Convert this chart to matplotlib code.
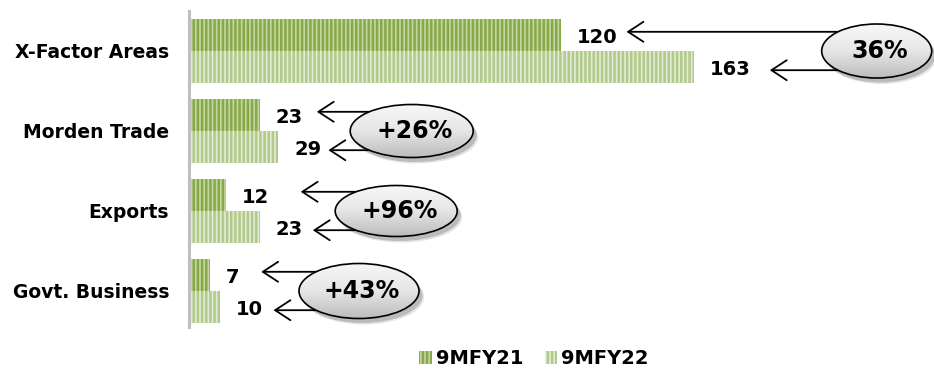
#! /usr/bin/env python3
# Segment revenue, 9MFY21 vs 9MFY22, with growth call-outs.
import numpy as np
import matplotlib.pyplot as plt
from matplotlib.patches import Ellipse
from matplotlib.colors import LinearSegmentedColormap

categories = ['X-Factor Areas', 'Morden Trade', 'Exports', 'Govt. Business']
series = ['9MFY21', '9MFY22']
fy21 = [120, 23, 12, 7]
fy22 = [163, 29, 23, 10]
growth = ['36%', '+26%', '+96%', '+43%']

plt.rcParams['font.family'] = 'DejaVu Sans'
plt.rcParams['font.weight'] = 'bold'
plt.rcParams['hatch.linewidth'] = 1.8

W, H = 934, 370
x0 = 188.5          # pixel column of x = 0
sx, sy = 3.1, 80.0  # pixels per data unit
fig = plt.figure(figsize=(W / 100, H / 100), dpi=100)
ax = fig.add_axes([x0 / W, (H - 327) / H, (W - x0) / W, 316 / H])

# Bars, striped like the original deck style.
y = np.arange(len(categories))
h = 0.39
b21 = ax.barh(y - 0.2, fy21, height=h, color='#c4d7a2', edgecolor='#88a948',
              hatch='||||', linewidth=0, label=series[0], zorder=2)
b22 = ax.barh(y + 0.2, fy22, height=h, color='#e2ecd4', edgecolor='#b1ca8b',
              hatch='||||', linewidth=0, label=series[1], zorder=2)

# Value labels just past the bar ends.
for vals, dy in ((fy21, -0.2), (fy22, 0.2)):
    for i, v in enumerate(vals):
        ax.annotate(str(v), (v, i + dy), xytext=(16 * 0.72, -1.5),
                    textcoords='offset points', va='center', ha='left',
                    fontsize=14, fontweight='bold', zorder=6)

# Growth bubbles with arrows pointing back at the labels.
bubble_x = [222, 72, 67, 55]
bubble_size = [(110, 54), (123, 53), (122, 51), (120, 55)]
tip21 = [66, 57, 75, 51]   # arrow tip, pixels past bar end
tip22 = [76, 50, 53, 54]
grey = LinearSegmentedColormap.from_list('bubble', ['#f7f7f7', '#e6e6e6', '#bdbdbd'])
grad = np.linspace(0, 1, 64).reshape(-1, 1)
arrow = dict(arrowstyle='->,head_length=0.55,head_width=0.36', lw=1.3,
             color='black', shrinkA=0, shrinkB=0, mutation_scale=20)

for i, bx in enumerate(bubble_x):
    bw, bh = bubble_size[i][0] / sx, bubble_size[i][1] / sy
    for v, tip, dy in ((fy21[i], tip21[i], -0.24), (fy22[i], tip22[i], 0.24)):
        ax.annotate('', xy=(v + tip / sx, i + dy), xytext=(bx, i + dy),
                    arrowprops=arrow, zorder=3)
    for k, a in ((5, 0.10), (3.5, 0.18)):
        ax.add_patch(Ellipse((bx + k / sx, i + (k + 1) / sy), bw, bh,
                             facecolor='black', alpha=a, lw=0, zorder=3.5))
    e = Ellipse((bx, i), bw, bh, facecolor='none', edgecolor='black',
                lw=1.2, zorder=5)
    ax.add_patch(e)
    im = ax.imshow(grad, cmap=grey, aspect='auto', interpolation='bicubic',
                   extent=[bx - bw / 2, bx + bw / 2, i + bh / 2, i - bh / 2],
                   zorder=4.5)
    im.set_clip_path(e)
    ax.text(bx + 3 / sx, i, growth[i], ha='center', va='center',
            fontsize=17, fontweight='bold', zorder=6)

ax.set_xlim(0, (W - x0) / sx)
ax.set_ylim(3.45, -0.5)
ax.set_yticks(y)
ax.set_yticklabels(categories, fontsize=13.5, fontweight='bold')
ax.set_xticks([])
ax.tick_params(axis='y', length=0, pad=14)
for s in ('top', 'right', 'bottom'):
    ax.spines[s].set_visible(False)
ax.spines['left'].set_color('#bfbfbf')
ax.spines['left'].set_linewidth(2.2)

fig.legend(handles=[b21, b22], loc='center', bbox_to_anchor=(534 / W, 1 - 359 / H),
           ncol=2, frameon=False, fontsize=14, handlelength=0.65,
           handleheight=0.65, handletextpad=0.2, columnspacing=1.1)

fig.savefig('out.png', dpi=100)
